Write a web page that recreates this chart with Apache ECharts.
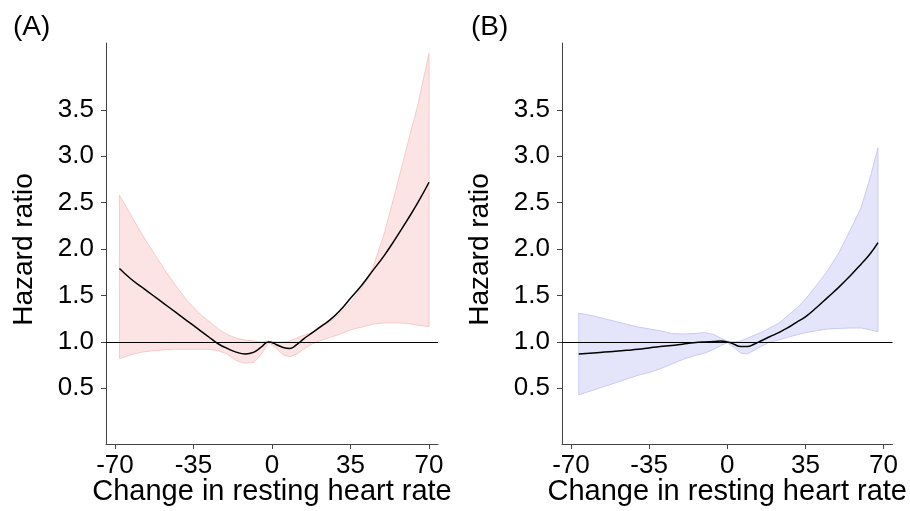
<!DOCTYPE html>
<html>
<head>
<meta charset="utf-8">
<script src="https://cdn.jsdelivr.net/npm/echarts@6/dist/echarts.min.js"></script>
<style>
  html, body { margin: 0; padding: 0; background: #fff; }
  #chart { width: 910px; height: 511px; }
</style>
</head>
<body>
<div id="chart"></div>
<script>
// 面板A：变化值、风险比及置信区间
var xA = [-68, -63, -58, -53, -48, -43, -38, -33, -28, -24, -20, -16, -12, -8, -5, -1.5, 2, 5, 8, 11, 14, 18, 22, 26, 30, 35, 40, 45, 50, 55, 60, 65, 70];
var hrA = [1.79, 1.68, 1.59, 1.50, 1.41, 1.32, 1.23, 1.14, 1.05, 0.98, 0.93, 0.89, 0.87, 0.89, 0.94, 1.0, 0.97, 0.94, 0.93, 0.97, 1.03, 1.10, 1.17, 1.24, 1.33, 1.47, 1.61, 1.77, 1.93, 2.11, 2.30, 2.50, 2.72];
var upA = [2.58, 2.37, 2.16, 1.97, 1.78, 1.61, 1.45, 1.32, 1.22, 1.14, 1.08, 1.04, 1.02, 1.01, 1.0, 1.01, 1.0, 1.0, 1.01, 1.04, 1.07, 1.10, 1.16, 1.22, 1.30, 1.42, 1.58, 1.80, 2.16, 2.62, 3.09, 3.55, 4.11];
var loA = [0.82, 0.86, 0.89, 0.905, 0.915, 0.92, 0.92, 0.92, 0.92, 0.905, 0.87, 0.80, 0.77, 0.78, 0.86, 0.99, 0.93, 0.86, 0.84, 0.87, 0.92, 0.98, 1.02, 1.05, 1.08, 1.13, 1.16, 1.19, 1.205, 1.205, 1.20, 1.18, 1.165];

// 面板B
var xB = [-66.5, -60, -55, -50, -45, -40, -35, -30, -25, -20, -15, -10, -6, -3, 0, 3, 6, 9, 12, 15, 19, 23, 27, 31, 35, 40, 45, 50, 55, 60, 64, 67.5];
var hrB = [0.87, 0.88, 0.89, 0.90, 0.91, 0.92, 0.935, 0.95, 0.96, 0.975, 0.99, 1.0, 1.005, 1.01, 1.0, 0.975, 0.95, 0.95, 0.975, 1.01, 1.055, 1.10, 1.15, 1.21, 1.27, 1.37, 1.48, 1.59, 1.71, 1.84, 1.95, 2.07];
var upB = [1.31, 1.28, 1.25, 1.22, 1.19, 1.16, 1.14, 1.12, 1.09, 1.085, 1.09, 1.10, 1.08, 1.04, 1.01, 1.0, 1.01, 1.04, 1.07, 1.10, 1.15, 1.20, 1.28, 1.36, 1.46, 1.61, 1.77, 1.96, 2.20, 2.45, 2.77, 3.09];
var loB = [0.43, 0.48, 0.52, 0.56, 0.60, 0.64, 0.67, 0.71, 0.76, 0.81, 0.85, 0.88, 0.92, 0.96, 0.99, 0.94, 0.88, 0.87, 0.91, 0.95, 1.0, 1.02, 1.05, 1.075, 1.10, 1.12, 1.14, 1.145, 1.15, 1.15, 1.13, 1.11];

var xTicks = [-70, -35, 0, 35, 70];
var yTicks = [0.5, 1.0, 1.5, 2.0, 2.5, 3.0, 3.5];

var font = 'Liberation Sans, Arial, sans-serif';
var axisColor = '#444';

function pairs(xs, ys) {
    var out = [];
    for (var i = 0; i < xs.length; i++) out.push([xs[i], ys[i]]);
    return out;
}

// 置信区间带：上界正序 + 下界逆序
function band(xs, up, lo, fill, edge) {
    return function (params, api) {
        var pts = [];
        for (var i = 0; i < xs.length; i++) pts.push(api.coord([xs[i], up[i]]));
        for (var j = xs.length - 1; j >= 0; j--) pts.push(api.coord([xs[j], lo[j]]));
        return {
            type: 'polygon',
            shape: { points: pts },
            style: { fill: fill, stroke: edge, lineWidth: 1 }
        };
    };
}

function xAxisOf(idx) {
    return {
        gridIndex: idx,
        type: 'value',
        min: -74,
        max: 74,
        name: 'Change in resting heart rate',
        nameLocation: 'middle',
        nameGap: 33,
        nameMoveOverlap: false,
        nameTextStyle: { color: '#000', fontSize: 29, fontFamily: font },
        axisLine: { show: true, onZero: false, lineStyle: { color: axisColor, width: 1 } },
        axisTick: { show: true, length: 5, customValues: xTicks, lineStyle: { color: axisColor } },
        axisLabel: { customValues: xTicks, color: '#000', fontSize: 26, fontFamily: font, margin: 9 },
        splitLine: { show: false }
    };
}

function yAxisOf(idx) {
    return {
        gridIndex: idx,
        type: 'value',
        min: -0.1,
        max: 4.22,
        name: 'Hazard ratio',
        nameLocation: 'middle',
        nameGap: 68,
        nameMoveOverlap: false,
        nameTextStyle: { color: '#000', fontSize: 28, fontFamily: font, padding: [0, 12, 0, 0] },
        axisLine: { show: true, onZero: false, lineStyle: { color: axisColor, width: 1 } },
        axisTick: { show: true, length: 5, customValues: yTicks, lineStyle: { color: axisColor } },
        axisLabel: {
            customValues: yTicks, color: '#000', fontSize: 26, fontFamily: font, margin: 12,
            formatter: function (v) { return v.toFixed(1); }
        },
        splitLine: { show: false }
    };
}

function curve(idx, xs, ys) {
    return {
        type: 'line',
        xAxisIndex: idx,
        yAxisIndex: idx,
        data: pairs(xs, ys),
        smooth: 0.5,
        showSymbol: false,
        silent: true,
        z: 3,
        lineStyle: { color: '#000', width: 1.5 },
        markLine: {
            silent: true,
            symbol: 'none',
            label: { show: false },
            lineStyle: { color: '#000', width: 1, type: 'solid' },
            data: [{ yAxis: 1 }]
        }
    };
}

var mychart = echarts.init(document.getElementById('chart'));
var option = {
    backgroundColor: '#fff',
    animation: false,
    title: [
        { text: '(A)', left: 8, top: 8, textStyle: { fontSize: 28, fontWeight: 'normal', color: '#000', fontFamily: font } },
        { text: '(B)', left: 466, top: 8, textStyle: { fontSize: 28, fontWeight: 'normal', color: '#000', fontFamily: font } }
    ],
    grid: [
        { left: 106, top: 43, width: 332, height: 401 },
        { left: 562, top: 43, width: 332, height: 401 }
    ],
    xAxis: [xAxisOf(0), xAxisOf(1)],
    yAxis: [yAxisOf(0), yAxisOf(1)],
    series: [
        {
            type: 'custom', xAxisIndex: 0, yAxisIndex: 0, silent: true, z: 1,
            renderItem: band(xA, upA, loA, '#fde4e4', '#f7caca'),
            data: [[0, 1]]
        },
        {
            type: 'custom', xAxisIndex: 1, yAxisIndex: 1, silent: true, z: 1,
            renderItem: band(xB, upB, loB, '#e4e4fb', '#cbcbf3'),
            data: [[0, 1]]
        },
        curve(0, xA, hrA),
        curve(1, xB, hrB)
    ]
};
mychart.setOption(option);
</script>
</body>
</html>
